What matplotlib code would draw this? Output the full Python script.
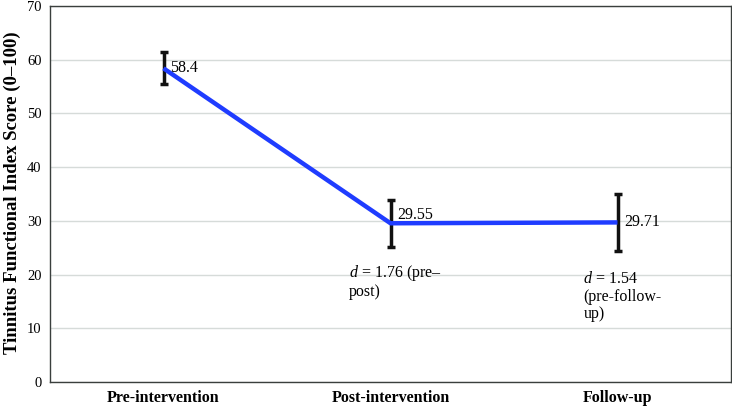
import numpy as np
import matplotlib
matplotlib.use("Agg")
import matplotlib.pyplot as plt

# data
phases = ["Pre-intervention", "Post-intervention", "Follow-up"]
scores = [58.4, 29.55, 29.71]
errors = [3.0, 4.4, 5.3]
value_labels = ["58.4", "29.55", "29.71"]
y_ticks = [0, 10, 20, 30, 40, 50, 60, 70]

plt.rcParams["font.family"] = ["Liberation Serif", "DejaVu Serif"]
plt.rcParams["mathtext.fontset"] = "custom"
plt.rcParams["mathtext.it"] = "Liberation Serif:italic"
plt.rcParams["mathtext.rm"] = "Liberation Serif"

fig = plt.figure(figsize=(7.32, 4.12), dpi=100)
ax = fig.add_axes([50 / 732, 30 / 412, 681 / 732, 376 / 412])

x = np.arange(len(phases)) + 0.5

ax.errorbar(x, scores, yerr=errors, fmt="none", ecolor="#111111",
            elinewidth=2.5, capsize=3, capthick=2.5, zorder=3)
ax.plot(x, scores, color="#1f3cff", linewidth=3.2, zorder=4,
        solid_capstyle="butt")

for xi, yi, lab in zip(x, scores, value_labels):
    ax.annotate(lab, (xi, yi), xytext=(5, 0), textcoords="offset points",
                fontsize=11.5, va="center" if lab != "29.55" else "bottom",
                ha="left", zorder=5)

ax.text(x[1] - 0.185, 22.2, r"$d$ = 1.76 (pre–" + "\npost)",
        fontsize=11.5, va="top", ha="left", linespacing=1.1)
ax.text(x[2] - 0.15, 20.6, r"$d$ = 1.54" + "\n(pre-follow-\nup)",
        fontsize=11.5, va="top", ha="left", linespacing=1.1)

ax.set_xlim(0, 3)
ax.set_ylim(0, 70)
ax.set_yticks(y_ticks)
ax.set_xticks(x)
ax.set_xticklabels(phases, fontsize=11.5, fontweight="bold")
ax.tick_params(axis="x", length=0, pad=6)
ax.tick_params(axis="y", length=0, pad=6, labelsize=10.5)
ax.yaxis.grid(True, color="#d6dbd9", linewidth=1)
ax.set_axisbelow(True)
for s in ax.spines.values():
    s.set_color("#3a3f3d")
    s.set_linewidth(1)

fig.text(12 / 732, 1 - 193 / 412, "Tinnitus Functional Index Score (0–100)",
         fontsize=13.5, fontweight="bold", rotation=90, ha="center", va="center")

fig.savefig("out.png", dpi=100)
